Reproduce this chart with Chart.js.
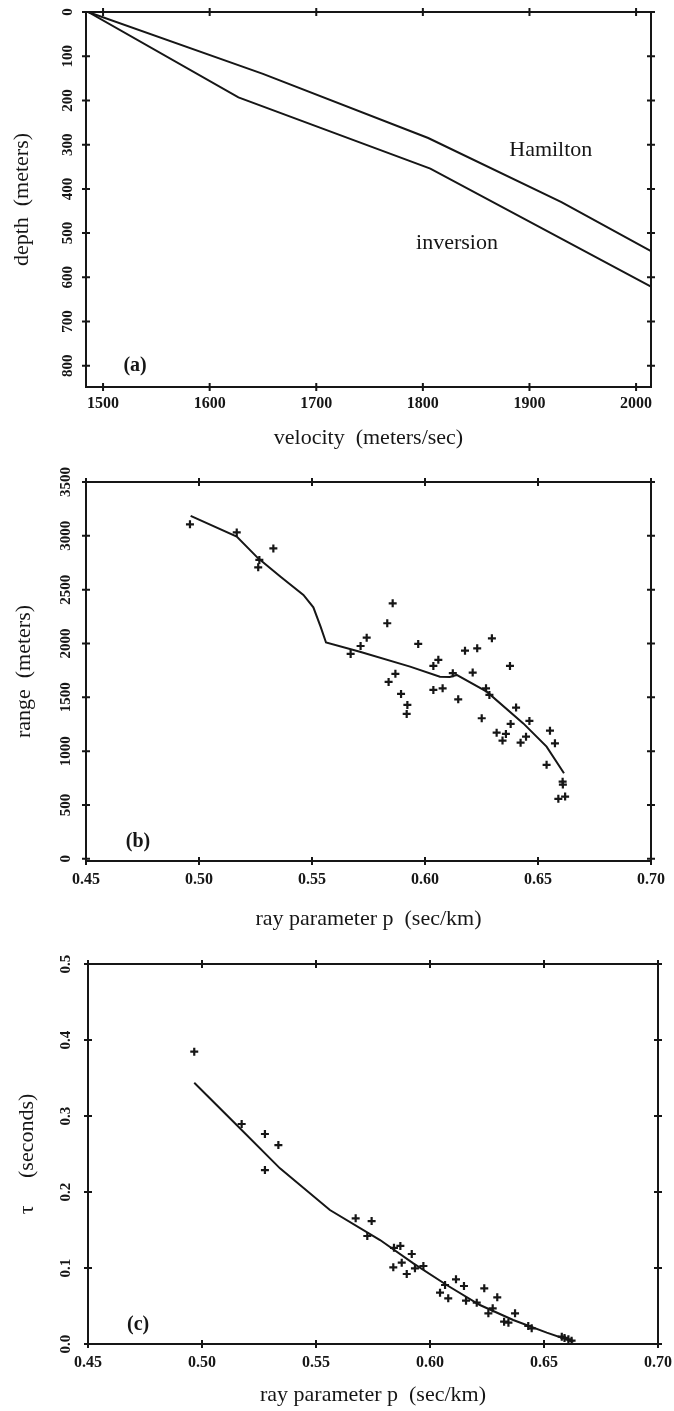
<!DOCTYPE html>
<html>
<head>
<meta charset="utf-8">
<script src="https://cdn.jsdelivr.net/npm/chart.js@4"></script>
<style>
  body { margin: 0; background: #fff; }
  #wrap { position: relative; width: 674px; height: 1411px; }
  canvas { position: absolute; left: 0; }
</style>
</head>
<body>
<div id="wrap">
  <canvas id="velChart" width="674" height="460" style="top:0px"></canvas>
  <canvas id="rangeChart" width="674" height="477" style="top:458px"></canvas>
  <canvas id="tauChart" width="674" height="476" style="top:935px"></canvas>
</div>
<script>
// ---- panel (a): velocity profiles ----
const hamiltonVel = [1486, 1650, 1805, 1930, 2014];
const hamiltonDepth = [0, 140, 285, 430, 541];
const inversionVel = [1486, 1627, 1807, 2014];
const inversionDepth = [0, 193, 354, 621];
const velTicks = [1500, 1600, 1700, 1800, 1900, 2000];
const depthTicks = [0, 100, 200, 300, 400, 500, 600, 700, 800];

// ---- panel (b): range vs ray parameter ----
const rangeFitP = [0.4963, 0.5167, 0.5262, 0.5361, 0.5462, 0.5506, 0.5538, 0.5562, 0.5712, 0.5934, 0.6066, 0.6110, 0.6140, 0.6273, 0.6435, 0.6538, 0.6615];
const rangeFitR = [3185, 2993, 2791, 2620, 2451, 2336, 2156, 2009, 1924, 1785, 1692, 1690, 1708, 1553, 1258, 1042, 795];
const rangeObsP = [0.4960, 0.5167, 0.5329, 0.5267, 0.5262, 0.5857, 0.5833, 0.5742, 0.5715, 0.5671,
  0.5869, 0.5839, 0.5894, 0.5922, 0.5919, 0.5970, 0.6296, 0.6177, 0.6231, 0.6376,
  0.6059, 0.6037, 0.6037, 0.6078, 0.6147, 0.6123, 0.6211, 0.6270, 0.6285, 0.6251,
  0.6403, 0.6379, 0.6462, 0.6317, 0.6358, 0.6343, 0.6447, 0.6423, 0.6553, 0.6575,
  0.6538, 0.6609, 0.6610, 0.6590, 0.6620];
const rangeObsR = [3107, 3032, 2883, 2776, 2708, 2373, 2188, 2054, 1977, 1903,
  1718, 1643, 1532, 1430, 1346, 1996, 2048, 1933, 1955, 1792,
  1848, 1792, 1569, 1584, 1482, 1724, 1730, 1584, 1522, 1306,
  1405, 1253, 1281, 1172, 1160, 1098, 1135, 1079, 1190, 1073,
  873, 717, 690, 557, 578];
const rayTicks = [0.45, 0.50, 0.55, 0.60, 0.65, 0.70];
const rayLabels = ['0.45', '0.50', '0.55', '0.60', '0.65', '0.70'];
const rangeTicks = [0, 500, 1000, 1500, 2000, 2500, 3000, 3500];

// ---- panel (c): tau vs ray parameter ----
const tauFitP = [0.4966, 0.5152, 0.5342, 0.5561, 0.5781, 0.5927, 0.6073, 0.6219, 0.6365, 0.6512, 0.6629];
const tauFitT = [0.3438, 0.2882, 0.2311, 0.1763, 0.1368, 0.1061, 0.0776, 0.0513, 0.0316, 0.0149, 0.0030];
const tauObsP = [0.4966, 0.5174, 0.5276, 0.5335, 0.5276, 0.5674, 0.5744, 0.5725, 0.5842, 0.5870,
  0.5920, 0.5839, 0.5876, 0.5898, 0.5934, 0.5971, 0.6114, 0.6149, 0.6044, 0.6080,
  0.6066, 0.6158, 0.6205, 0.6238, 0.6295, 0.6275, 0.6256, 0.6373, 0.6325, 0.6344,
  0.6431, 0.6446, 0.6578, 0.6590, 0.6607, 0.6621];
const tauObsT = [0.3846, 0.2895, 0.2763, 0.2618, 0.2289, 0.1654, 0.1618, 0.1421, 0.1265, 0.1290,
  0.1184, 0.1009, 0.1070, 0.0921, 0.0996, 0.1026, 0.0851, 0.0763, 0.0675, 0.0601,
  0.0776, 0.0570, 0.0544, 0.0733, 0.0614, 0.0469, 0.0403, 0.0403, 0.0294, 0.0280,
  0.0237, 0.0206, 0.0096, 0.0080, 0.0062, 0.0044];
const tauTicks = [0, 0.1, 0.2, 0.3, 0.4, 0.5];
const tauLabels = ['0.0', '0.1', '0.2', '0.3', '0.4', '0.5'];

const serif = "'Liberation Serif', 'Times New Roman', serif";
const ink = '#161616';

Chart.defaults.font.family = serif;
Chart.defaults.color = ink;

function pts(xs, ys) {
  return xs.map((v, i) => ({ x: v, y: ys[i] }));
}

function lineSet(xs, ys) {
  return { data: pts(xs, ys), showLine: true, borderColor: ink, borderWidth: 2,
           pointRadius: 0, fill: false, tension: 0 };
}

function markSet(xs, ys) {
  return { data: pts(xs, ys), showLine: false, pointStyle: 'cross', pointRadius: 4,
           borderColor: ink, borderWidth: 2.2 };
}

// little crosses where the ticks meet the frame, on all four sides
const crossTicks = {
  id: 'crossTicks',
  afterDraw(chart) {
    const { ctx, chartArea: a } = chart;
    const x = chart.scales.x, y = chart.scales.y;
    ctx.save();
    ctx.strokeStyle = ink;
    ctx.lineWidth = 2;
    ctx.beginPath();
    x.ticks.forEach(t => {
      const px = x.getPixelForValue(t.value);
      ctx.moveTo(px, a.top - 4); ctx.lineTo(px, a.top + 4);
      ctx.moveTo(px, a.bottom - 4); ctx.lineTo(px, a.bottom + 4);
    });
    y.ticks.forEach(t => {
      const py = y.getPixelForValue(t.value);
      ctx.moveTo(a.left - 4, py); ctx.lineTo(a.left + 4, py);
      ctx.moveTo(a.right - 4, py); ctx.lineTo(a.right + 4, py);
    });
    ctx.stroke();
    ctx.restore();
  }
};

function notes(items) {
  return {
    id: 'notes',
    afterDraw(chart) {
      const { ctx } = chart;
      ctx.save();
      ctx.fillStyle = ink;
      ctx.textAlign = 'center';
      ctx.textBaseline = 'middle';
      items.forEach(n => {
        ctx.font = n.font;
        ctx.fillText(n.text, chart.scales.x.getPixelForValue(n.x), chart.scales.y.getPixelForValue(n.y));
      });
      ctx.restore();
    }
  };
}

function makeScales(c) {
  const border = { display: true, color: ink, width: 2 };
  const grid = { drawOnChartArea: false, drawTicks: false };
  return {
    x: {
      type: 'linear', position: 'bottom', min: c.xMin, max: c.xMax, border, grid,
      afterBuildTicks: s => { s.ticks = c.xTicks.map(v => ({ value: v })); },
      ticks: { autoSkip: false, maxRotation: 0, padding: c.xTickPad, color: ink,
               font: { family: serif, size: 16, weight: 'bold' },
               callback: (v, i) => c.xLabels[i] },
      title: { display: true, text: c.xTitle, color: ink,
               font: { family: serif, size: 22 }, padding: { top: 0, bottom: c.xTitlePad } },
      afterFit: s => { s.height = c.bottomH; s.paddingLeft = 0; s.paddingRight = 0; }
    },
    y: {
      type: 'linear', position: 'left', min: c.yMin, max: c.yMax, reverse: !!c.yReverse, border, grid,
      afterBuildTicks: s => { s.ticks = c.yTicks.map(v => ({ value: v })); },
      ticks: { autoSkip: false, minRotation: 90, maxRotation: 90, crossAlign: 'center',
               padding: c.yTickPad, color: ink,
               font: { family: serif, size: 15, weight: 'bold' },
               callback: (v, i) => c.yLabels[i] },
      title: { display: true, text: c.yTitle, color: ink,
               font: { family: serif, size: 22 }, padding: { top: c.yTitlePad, bottom: 0 } },
      afterFit: s => { s.width = c.leftW; s.paddingTop = 0; s.paddingBottom = 0; }
    },
    x2: {
      type: 'linear', position: 'top', min: c.xMin, max: c.xMax, border, grid,
      ticks: { display: false },
      afterFit: s => { s.height = c.topH; s.paddingLeft = 0; s.paddingRight = 0; }
    },
    y2: {
      type: 'linear', position: 'right', min: c.yMin, max: c.yMax, border, grid,
      ticks: { display: false },
      afterFit: s => { s.width = c.rightW; s.paddingTop = 0; s.paddingBottom = 0; }
    }
  };
}

const baseOpts = {
  responsive: false,
  animation: false,
  devicePixelRatio: 1,
  layout: { padding: 0 },
  plugins: { legend: { display: false }, tooltip: { enabled: false } }
};

new Chart(document.getElementById('velChart'), {
  type: 'scatter',
  data: { datasets: [lineSet(hamiltonVel, hamiltonDepth), lineSet(inversionVel, inversionDepth)] },
  options: Object.assign({}, baseOpts, {
    scales: makeScales({
      xMin: 1484, xMax: 2014, xTicks: velTicks, xLabels: velTicks.map(String),
      yMin: 0, yMax: 848, yReverse: true, yTicks: depthTicks, yLabels: depthTicks.map(String),
      xTitle: 'velocity  (meters/sec)', yTitle: 'depth  (meters)',
      leftW: 86, rightW: 23, topH: 12, bottomH: 73,
      xTickPad: 7, xTitlePad: 9, yTickPad: 7, yTitlePad: 9
    })
  }),
  plugins: [crossTicks, notes([
    { text: 'Hamilton', x: 1920, y: 312, font: '22px ' + serif },
    { text: 'inversion', x: 1832, y: 523, font: '22px ' + serif },
    { text: '(a)', x: 1530, y: 799, font: 'bold 20px ' + serif }
  ])]
});

new Chart(document.getElementById('rangeChart'), {
  type: 'scatter',
  data: { datasets: [lineSet(rangeFitP, rangeFitR), markSet(rangeObsP, rangeObsR)] },
  options: Object.assign({}, baseOpts, {
    scales: makeScales({
      xMin: 0.45, xMax: 0.70, xTicks: rayTicks, xLabels: rayLabels,
      yMin: -20, yMax: 3500, yTicks: rangeTicks, yLabels: rangeTicks.map(String),
      xTitle: 'ray parameter p  (sec/km)', yTitle: 'range  (meters)',
      leftW: 86, rightW: 23, topH: 24, bottomH: 74,
      xTickPad: 9, xTitlePad: 3, yTickPad: 5, yTitlePad: 11
    })
  }),
  plugins: [crossTicks, notes([
    { text: '(b)', x: 0.473, y: 157, font: 'bold 20px ' + serif }
  ])]
});

new Chart(document.getElementById('tauChart'), {
  type: 'scatter',
  data: { datasets: [lineSet(tauFitP, tauFitT), markSet(tauObsP, tauObsT)] },
  options: Object.assign({}, baseOpts, {
    scales: makeScales({
      xMin: 0.45, xMax: 0.70, xTicks: rayTicks, xLabels: rayLabels,
      yMin: 0, yMax: 0.5, yTicks: tauTicks, yLabels: tauLabels,
      xTitle: 'ray parameter p  (sec/km)', yTitle: 'τ     (seconds)',
      leftW: 88, rightW: 16, topH: 29, bottomH: 67,
      xTickPad: 9, xTitlePad: 3, yTickPad: 13, yTitlePad: 14
    })
  }),
  plugins: [crossTicks, notes([
    { text: '(c)', x: 0.472, y: 0.025, font: 'bold 20px ' + serif }
  ])]
});
</script>
</body>
</html>
